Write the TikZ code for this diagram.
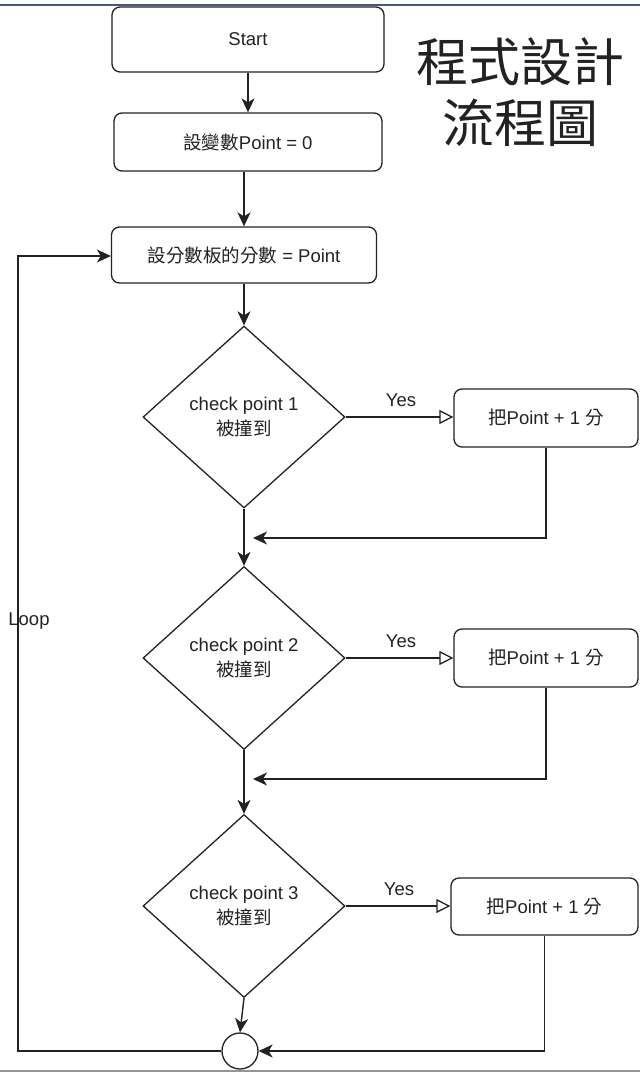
\documentclass[tikz,border=0pt]{standalone}
\usepackage{fontspec}
\setmainfont{Liberation Sans}
\newfontfamily\cjk{Noto Sans CJK TC}
\usetikzlibrary{shapes.geometric,arrows.meta}
\definecolor{ink}{RGB}{34,34,34}
\definecolor{topline}{RGB}{72,86,120}
\definecolor{botline}{RGB}{140,150,155}
\newcommand\lblfont{\fontsize{18.5}{25}\selectfont}
\newcommand\headfont{\cjk\fontsize{52}{60}\selectfont}
\begin{document}
\begin{tikzpicture}[x=1pt,y=-1pt,
  every node/.style={text=ink},
  box/.style={rectangle, draw=ink, line width=1.3pt, rounded corners=8pt,
    inner sep=0pt, align=center, font=\lblfont},
  dia/.style={diamond, draw=ink, line width=1.3pt, inner sep=0pt,
    minimum width=202pt, minimum height=182pt, align=center, font=\lblfont},
  lbl/.style={font=\lblfont, inner sep=0pt},
  flow/.style={draw=ink, line width=1.4pt, -{Stealth[length=14pt,width=13pt,inset=4pt]}},
  yes/.style={draw=ink, line width=1.3pt, -{Triangle[open,length=14pt,width=14pt]}},
  wire/.style={draw=ink, line width=1.3pt}
]
\useasboundingbox (0,0) rectangle (640,1072);

% frame lines at top and bottom
\draw[topline, line width=2pt] (0,5) -- (640,5);
\draw[botline, line width=2pt] (0,1071) -- (640,1071);

% heading
\node[font=\headfont, inner sep=0pt] (head1) at (520,62) {程式設計};
\node[font=\headfont, inner sep=0pt] (head2) at (520,123) {流程圖};

% main column
\node[box, minimum width=272pt, minimum height=65pt] (start) at (248,39.5) {Start};
\node[box, minimum width=268pt, minimum height=58pt] (init) at (248,142) {{\cjk 設變數}Point = 0};
\node[box, minimum width=265pt, minimum height=56pt] (board) at (244,255) {{\cjk 設分數板的分數} = Point};

\node[dia] (d1) at (244,417) {check point 1\\{\cjk 被撞到}};
\node[dia, minimum height=183pt] (d2) at (244,658) {check point 2\\{\cjk 被撞到}};
\node[dia, minimum height=183pt] (d3) at (244,906) {check point 3\\{\cjk 被撞到}};

\node[box, minimum width=184pt, minimum height=58pt] (add1) at (546,418) {{\cjk 把}Point + 1 {\cjk 分}};
\node[box, minimum width=184pt, minimum height=58pt] (add2) at (546,658) {{\cjk 把}Point + 1 {\cjk 分}};
\node[box, minimum width=187pt, minimum height=57pt] (add3) at (544.5,906.5) {{\cjk 把}Point + 1 {\cjk 分}};

\node[circle, draw=ink, line width=1.3pt, minimum size=36pt, inner sep=0pt] (join) at (240,1051) {};

% labels
\node[lbl] (yes1) at (401,400) {Yes};
\node[lbl] (yes2) at (401,641) {Yes};
\node[lbl] (yes3) at (399,889) {Yes};
\node[lbl] (looplbl) at (29,621) {Loop};

% merge points on the main column
\coordinate (m1) at (253,538);
\coordinate (m2) at (253,779);
\coordinate (c1) at (18,1051);
\coordinate (c2) at (18,256);

% connectors
\draw[flow] (start) -- (init);
\draw[flow] (board.north |- init.south) -- (board.north);
\draw[flow] (board) -- (d1);
\draw[yes] (d1.east) -- (d1.east -| add1.west);
\draw[flow] (add1.south) |- (m1);
\draw[flow] (d1) -- (d2);
\draw[yes] (d2.east) -- (d2.east -| add2.west);
\draw[flow] (add2.south) |- (m2);
\draw[flow] (d2) -- (d3);
\draw[yes] (d3.east) -- (d3.east -| add3.west);
\draw[flow] (d3.south) -- (join.north);
\draw[flow] (add3.south) |- (join.east);
\draw[flow] (join.west) -- (c1) -- (c2) -- (c2 -| board.west);
\end{tikzpicture}
\end{document}
